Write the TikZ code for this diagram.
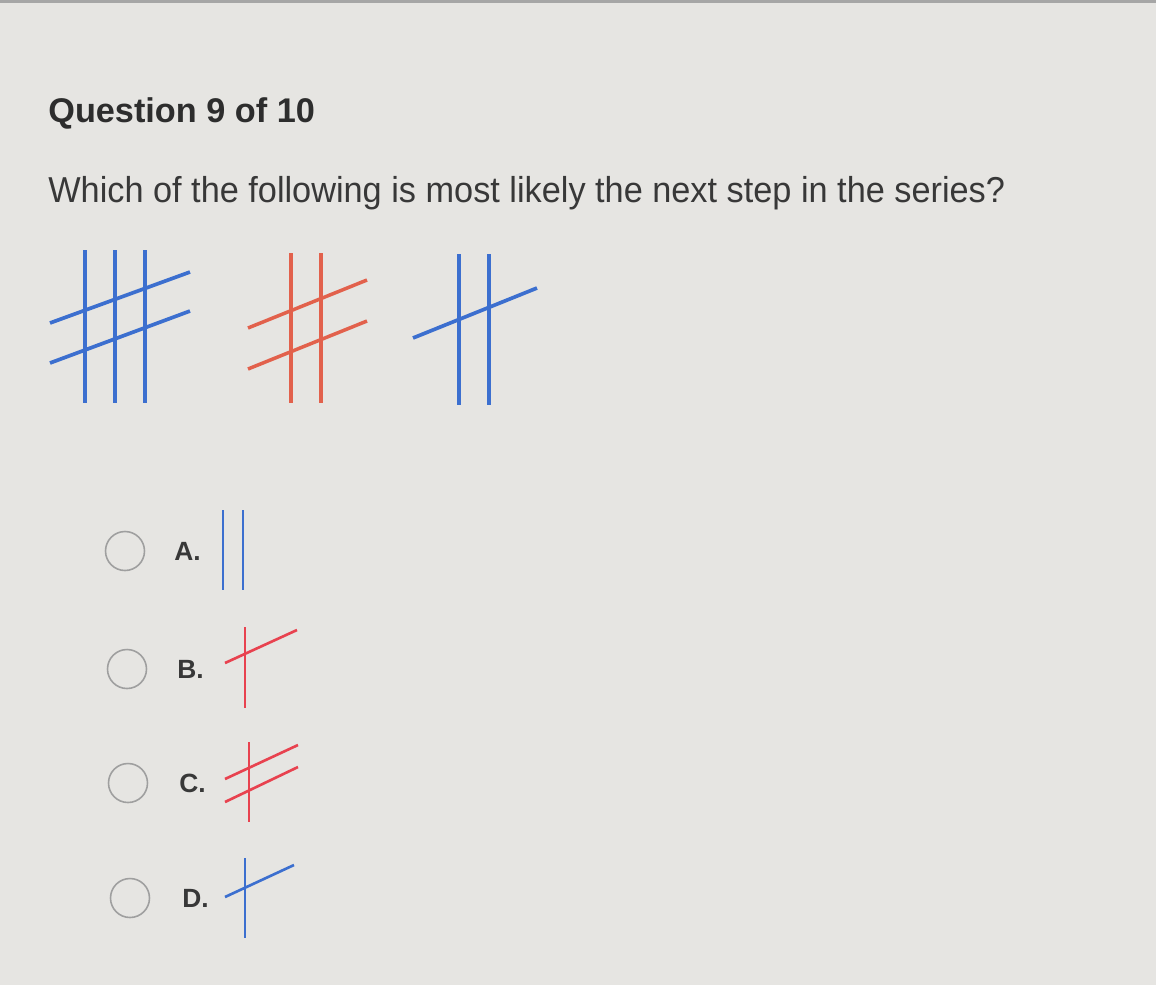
\documentclass[tikz,border=0pt]{standalone}
\usepackage{fontspec}
\setmainfont{Liberation Sans}
\newfontfamily\narrowfont[FakeStretch=0.952]{Liberation Sans}
\usetikzlibrary{positioning}

\definecolor{paper}{HTML}{E6E5E2}
\definecolor{inkblue}{HTML}{3C6FCF}
\definecolor{inkred}{HTML}{E2614C}
\definecolor{optred}{HTML}{E8424F}
\definecolor{textgray}{HTML}{383838}

\tikzset{
  bluestroke/.style={inkblue,line width=2.1pt},
  redstroke/.style={inkred,line width=2pt},
  optblue/.style={inkblue,line width=1.5pt},
  optredstroke/.style={optred,line width=1.5pt},
  radio/.style={circle,draw=gray!75,line width=0.9pt,minimum size=0.78cm,inner sep=0pt},
  optlabel/.style={font=\bfseries\fontsize{15}{18}\selectfont,text=textgray,anchor=west,inner sep=0pt}
}

\begin{document}
\begin{tikzpicture}[x=0.02cm,y=-0.02cm]
    % Page
    \fill[paper] (0,0) rectangle (1156,985);
    \useasboundingbox (0,0) rectangle (1156,985);
    \fill[gray!70] (0,0) rectangle (1156,3);

    % Heading and question
    \node[anchor=base west,inner sep=0pt,text=textgray!80!black,font=\bfseries\fontsize{19.5}{22}\selectfont] (title) at (48,122) {Question 9 of 10};
    \node[anchor=base west,inner sep=0pt,text=textgray,font=\narrowfont\fontsize{20.5}{25}\selectfont] (prompt) at (48,202) {Which of the following is most likely the next step in the series?};

    % Series: first figure
    \foreach \x in {85,115,145} \draw[bluestroke] (\x,250) -- (\x,403);
    \draw[bluestroke] (50,323) -- (190,272);
    \draw[bluestroke] (50,363) -- (190,311);

    % Series: second figure
    \foreach \x in {291,321} \draw[redstroke] (\x,253) -- (\x,403);
    \draw[redstroke] (248,328) -- (367,280);
    \draw[redstroke] (248,369) -- (367,321);

    % Series: third figure
    \foreach \x in {459,489} \draw[bluestroke] (\x,254) -- (\x,405);
    \draw[bluestroke] (413,338) -- (537,288);

    % Answer choices
    \node[radio] (radioA) at (125,551) {};
    \node[radio] (radioB) at (127,669) {};
    \node[radio] (radioC) at (128,783) {};
    \node[radio] (radioD) at (130,898) {};
    \node[optlabel] (labA) at (174,551) {A.};
    \node[optlabel] (labB) at (177,669) {B.};
    \node[optlabel] (labC) at (179,783) {C.};
    \node[optlabel] (labD) at (182,898) {D.};

    % Choice A
    \foreach \x in {223,243} \draw[optblue] (\x,510) -- (\x,590);
    % Choice B
    \draw[optredstroke] (245,627) -- (245,708);
    \draw[optredstroke] (225,663) -- (297,630);
    % Choice C
    \draw[optredstroke] (249,742) -- (249,822);
    \draw[optredstroke] (225,779) -- (298,745);
    \draw[optredstroke] (225,802) -- (298,767);
    % Choice D
    \draw[optblue] (245,858) -- (245,938);
    \draw[optblue] (225,897) -- (294,865);
\end{tikzpicture}
\end{document}
